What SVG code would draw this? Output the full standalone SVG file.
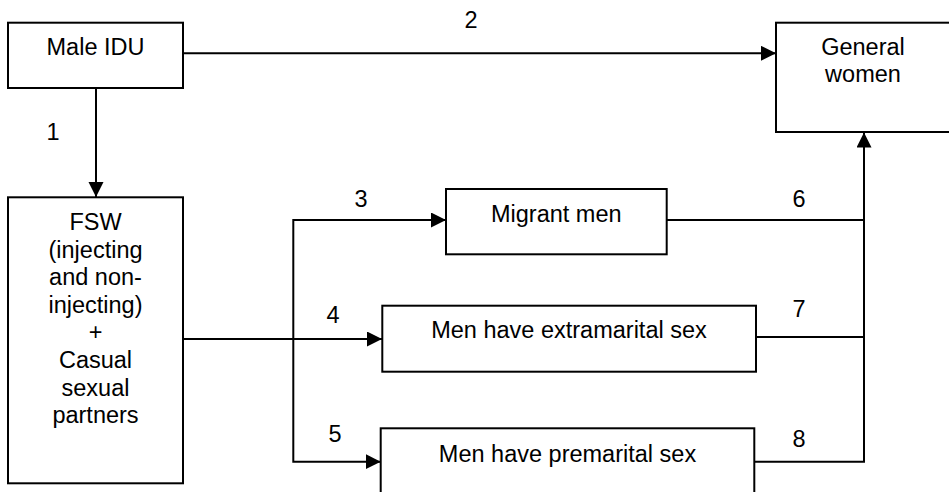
<svg xmlns="http://www.w3.org/2000/svg" width="949" height="492" viewBox="0 0 949 492">
<style>
.box{fill:#fff;stroke:#000;stroke-width:2}
.ln{fill:none;stroke:#000;stroke-width:2}
text{font-family:"Liberation Sans",Arial,sans-serif;font-size:23.5px;fill:#000;text-anchor:middle}
</style>
<defs>
<marker id="ah" markerUnits="userSpaceOnUse" markerWidth="16" markerHeight="16" refX="15" refY="7.5" orient="auto">
<path d="M0,0 L15,7.5 L0,15 Z" fill="#000"/>
</marker>
</defs>
<rect width="949" height="492" fill="#fff"/>
<g id="connectors">
<path class="ln" d="M96,88 V197" marker-end="url(#ah)"/>
<path class="ln" d="M183,53.3 H776" marker-end="url(#ah)"/>
<path class="ln" d="M183,339 H382" marker-end="url(#ah)"/>
<path class="ln" d="M293.3,339 V220 H446" marker-end="url(#ah)"/>
<path class="ln" d="M293.3,339 V461.7 H380.7" marker-end="url(#ah)"/>
<path class="ln" d="M667,220 H864"/>
<path class="ln" d="M754,337 H864"/>
<path class="ln" d="M754,461.7 H864 V132.5" marker-end="url(#ah)"/>
<text x="53" y="140">1</text>
<text x="471" y="28">2</text>
<text x="361" y="206.7">3</text>
<text x="333" y="323">4</text>
<text x="335" y="441.7">5</text>
<text x="799" y="206.7">6</text>
<text x="799" y="316.7">7</text>
<text x="799" y="446.7">8</text>
</g>
<g id="male-idu">
<rect class="box" x="8" y="22.7" width="175" height="65.3"/>
<text x="95.5" y="55">Male IDU</text>
</g>
<g id="general-women">
<rect class="box" x="776" y="22.7" width="185" height="109.3"/>
<text x="863" y="55">General</text>
<text x="863" y="82">women</text>
</g>
<g id="fsw">
<rect class="box" x="8" y="197.3" width="175" height="286"/>
<text x="95.5" y="230">FSW</text>
<text x="95.5" y="257.6">(injecting</text>
<text x="95.5" y="285.2">and non-</text>
<text x="95.5" y="312.8">injecting)</text>
<text x="95.5" y="340.4">+</text>
<text x="95.5" y="368">Casual</text>
<text x="95.5" y="395.6">sexual</text>
<text x="95.5" y="423.2">partners</text>
</g>
<g id="migrant-men">
<rect class="box" x="446" y="189" width="220.7" height="65.3"/>
<text x="556.3" y="221.7">Migrant men</text>
</g>
<g id="extramarital">
<rect class="box" x="382.3" y="305.7" width="373.7" height="66"/>
<text x="569" y="338.3">Men have extramarital sex</text>
</g>
<g id="premarital">
<rect class="box" x="380.7" y="428.3" width="373.6" height="80"/>
<text x="567.5" y="461.7">Men have premarital sex</text>
</g>
</svg>
